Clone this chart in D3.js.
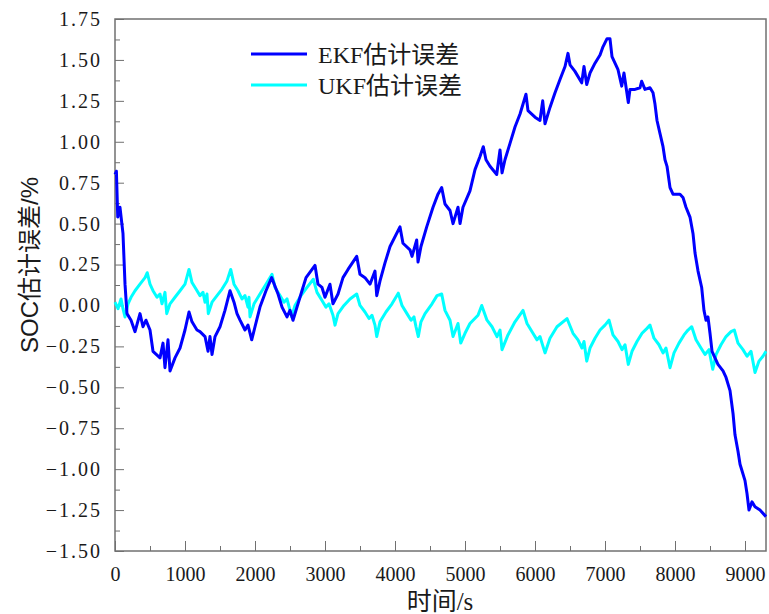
<!DOCTYPE html>
<html>
<head>
<meta charset="utf-8">
<script src="https://cdn.jsdelivr.net/npm/d3@7"></script>
<style>
  body { margin: 0; background: #fff; }
  svg { display: block; }
</style>
</head>
<body>
<svg id="chart"></svg>
<script>
// time (s) and SOC error (%)
var ekfT = [0, 20, 39, 71, 114, 143, 171, 229, 286, 357, 400, 443, 500, 543, 643, 686, 714, 757, 786, 857, 929, 1000, 1057, 1100, 1171, 1214, 1286, 1329, 1357, 1386, 1429, 1500, 1571, 1643, 1700, 1743, 1786, 1857, 1900, 1953, 2000, 2071, 2157, 2238, 2329, 2386, 2457, 2500, 2543, 2600, 2671, 2729, 2857, 2900, 2957, 3000, 3071, 3114, 3186, 3257, 3329, 3453, 3500, 3571, 3643, 3714, 3739, 3786, 3857, 3929, 4071, 4114, 4214, 4243, 4310, 4329, 4371, 4453, 4543, 4614, 4667, 4714, 4786, 4829, 4900, 4929, 4971, 5071, 5143, 5214, 5261, 5300, 5357, 5453, 5500, 5529, 5571, 5643, 5714, 5786, 5871, 5900, 6000, 6071, 6110, 6143, 6214, 6286, 6357, 6429, 6471, 6500, 6571, 6667, 6700, 6739, 6786, 6857, 6929, 6971, 7029, 7071, 7100, 7143, 7186, 7239, 7271, 7333, 7357, 7429, 7500, 7524, 7571, 7643, 7686, 7714, 7743, 7786, 7829, 7857, 7886, 7929, 7971, 8071, 8114, 8157, 8214, 8257, 8286, 8329, 8381, 8414, 8443, 8471, 8500, 8529, 8571, 8614, 8686, 8729, 8786, 8829, 8857, 8900, 8929, 9000, 9029, 9057, 9100, 9143, 9214, 9300];
var ekfV = [0.80, 0.82, 0.54, 0.60, 0.44, 0.13, -0.05, -0.09, -0.16, -0.05, -0.13, -0.09, -0.15, -0.28, -0.32, -0.23, -0.38, -0.21, -0.40, -0.32, -0.26, -0.15, -0.04, -0.10, -0.15, -0.16, -0.19, -0.28, -0.19, -0.30, -0.19, -0.13, -0.03, 0.09, 0.02, -0.05, -0.09, -0.15, -0.12, -0.21, -0.13, -0.01, 0.09, 0.17, 0.07, -0.01, -0.07, -0.03, -0.09, -0.01, 0.09, 0.17, 0.245, 0.13, 0.11, 0.05, 0.13, 0.01, 0.07, 0.17, 0.22, 0.30, 0.19, 0.17, 0.13, 0.21, 0.06, 0.15, 0.26, 0.36, 0.48, 0.38, 0.34, 0.30, 0.40, 0.265, 0.36, 0.48, 0.60, 0.68, 0.72, 0.62, 0.58, 0.50, 0.60, 0.50, 0.60, 0.70, 0.83, 0.91, 0.97, 0.89, 0.85, 0.80, 0.95, 0.81, 0.89, 0.99, 1.09, 1.17, 1.29, 1.19, 1.15, 1.13, 1.25, 1.11, 1.21, 1.30, 1.38, 1.46, 1.54, 1.47, 1.43, 1.36, 1.46, 1.35, 1.42, 1.48, 1.53, 1.58, 1.63, 1.63, 1.52, 1.48, 1.44, 1.34, 1.42, 1.24, 1.32, 1.32, 1.33, 1.37, 1.32, 1.33, 1.30, 1.23, 1.13, 1.05, 0.97, 0.89, 0.85, 0.72, 0.68, 0.68, 0.66, 0.60, 0.54, 0.44, 0.32, 0.21, 0.11, -0.03, -0.09, -0.07, -0.17, -0.28, -0.32, -0.36, -0.40, -0.44, -0.52, -0.66, -0.79, -0.89, -0.97, -1.07, -1.15, -1.25, -1.20, -1.23, -1.25, -1.29];

var ukfT = [0, 43, 86, 114, 143, 186, 229, 286, 357, 429, 461, 500, 543, 600, 643, 671, 714, 739, 786, 857, 929, 1000, 1057, 1100, 1157, 1214, 1257, 1286, 1314, 1333, 1386, 1457, 1529, 1600, 1653, 1700, 1757, 1814, 1857, 1900, 1914, 1929, 1986, 2071, 2157, 2243, 2286, 2357, 2414, 2457, 2500, 2524, 2571, 2657, 2743, 2833, 2886, 2957, 3014, 3057, 3114, 3143, 3186, 3271, 3357, 3453, 3500, 3571, 3629, 3671, 3714, 3739, 3786, 3871, 3957, 4047, 4100, 4171, 4229, 4271, 4300, 4333, 4371, 4429, 4529, 4600, 4667, 4714, 4786, 4829, 4900, 4939, 5000, 5071, 5186, 5239, 5314, 5386, 5457, 5500, 5529, 5614, 5714, 5829, 5886, 5971, 6029, 6071, 6143, 6214, 6314, 6457, 6543, 6614, 6671, 6700, 6739, 6786, 6857, 6929, 7000, 7057, 7114, 7186, 7243, 7286, 7333, 7386, 7457, 7529, 7600, 7643, 7700, 7771, 7829, 7871, 7929, 7986, 8057, 8129, 8186, 8239, 8300, 8371, 8429, 8486, 8539, 8586, 8657, 8729, 8800, 8847, 8900, 8971, 9029, 9086, 9143, 9200, 9257, 9300];
var ukfV = [0.02, -0.02, 0.04, -0.02, -0.07, 0.01, 0.05, 0.09, 0.13, 0.17, 0.20, 0.13, 0.09, 0.05, 0.07, 0.01, 0.08, -0.05, 0.01, 0.05, 0.09, 0.13, 0.22, 0.14, 0.10, 0.06, 0.08, 0.02, 0.07, -0.05, 0.02, 0.06, 0.10, 0.15, 0.22, 0.13, 0.09, 0.04, 0.06, -0.01, 0.05, -0.07, 0.01, 0.07, 0.13, 0.19, 0.11, 0.06, 0.02, 0.04, -0.03, -0.07, 0.00, 0.06, 0.11, 0.16, 0.08, 0.03, -0.01, 0.01, -0.06, -0.12, -0.05, 0.00, 0.04, 0.07, 0.00, -0.04, -0.08, -0.06, -0.12, -0.19, -0.10, -0.04, 0.01, 0.075, 0.00, -0.05, -0.09, -0.07, -0.13, -0.19, -0.10, -0.05, 0.01, 0.06, 0.07, -0.03, -0.09, -0.19, -0.11, -0.23, -0.17, -0.11, -0.06, 0.00, -0.09, -0.13, -0.19, -0.15, -0.27, -0.18, -0.10, -0.03, -0.11, -0.17, -0.21, -0.19, -0.29, -0.20, -0.13, -0.08, -0.17, -0.21, -0.26, -0.22, -0.34, -0.26, -0.20, -0.15, -0.12, -0.09, -0.18, -0.22, -0.27, -0.24, -0.36, -0.28, -0.22, -0.17, -0.14, -0.12, -0.20, -0.24, -0.29, -0.26, -0.38, -0.29, -0.23, -0.18, -0.15, -0.13, -0.21, -0.26, -0.30, -0.27, -0.39, -0.30, -0.24, -0.19, -0.16, -0.15, -0.23, -0.27, -0.31, -0.28, -0.41, -0.34, -0.31, -0.28];

var xTicks = [0, 1000, 2000, 3000, 4000, 5000, 6000, 7000, 8000, 9000];
var yTicks = [-1.5, -1.25, -1, -0.75, -0.5, -0.25, 0, 0.25, 0.5, 0.75, 1, 1.25, 1.5, 1.75];
var seriesNames = ["EKF估计误差", "UKF估计误差"];
var seriesColors = ["#0000ff", "#00ffff"];

var width = 769;
var height = 614;
var margin = {"top": 19, "right": 3, "bottom": 63, "left": 115};

var svg = d3.select("svg#chart")
    .attr("width", width)
    .attr("height", height);

var x = d3.scaleLinear().domain([0, 9300]).range([margin.left, width - margin.right]);
var y = d3.scaleLinear().domain([-1.5, 1.75]).range([height - margin.bottom, margin.top]);

var axisColor = "#707070";
var labelFont = "'Liberation Serif', 'Noto Sans CJK SC', serif";

// minor ticks first
svg.append("g")
    .attr("transform", "translate(0," + y(-1.5) + ")")
    .call(d3.axisBottom(x).tickValues(d3.range(500, 9300, 1000)).tickSize(-5).tickFormat(""))
    .call(g => g.select(".domain").remove())
    .call(g => g.selectAll("line").attr("stroke", axisColor));

svg.append("g")
    .attr("transform", "translate(" + x(0) + ",0)")
    .call(d3.axisLeft(y).tickValues(d3.range(-1.375, 1.75, 0.25)).tickSize(-5).tickFormat(""))
    .call(g => g.select(".domain").remove())
    .call(g => g.selectAll("line").attr("stroke", axisColor));

var xAxis = svg.append("g")
    .attr("transform", "translate(0," + y(-1.5) + ")")
    .call(d3.axisBottom(x).tickValues(xTicks).tickSize(-10).tickPadding(16).tickFormat(d3.format("d")));

var yAxis = svg.append("g")
    .attr("transform", "translate(" + x(0) + ",0)")
    .call(d3.axisLeft(y).tickValues(yTicks).tickSize(-9).tickPadding(13).tickFormat(d3.format(".2f")));

[xAxis, yAxis].forEach(function(g) {
    g.select(".domain").remove();
    g.selectAll("line").attr("stroke", axisColor);
    g.selectAll("text")
        .attr("fill", "#1a1a1a")
        .style("font-family", labelFont)
        .style("font-size", "20px");
});
yAxis.selectAll("text").style("letter-spacing", "2px");

// frame
svg.append("rect")
    .attr("x", x(0))
    .attr("y", y(1.75))
    .attr("width", x(9300) - x(0))
    .attr("height", y(-1.5) - y(1.75))
    .attr("fill", "none")
    .attr("stroke", axisColor)
    .attr("stroke-width", 1.5);

var line = d3.line()
    .x(function(d) { return x(d[0]); })
    .y(function(d) { return y(d[1]); });

var ukf = d3.zip(ukfT, ukfV);
var ekf = d3.zip(ekfT, ekfV);

svg.append("path")
    .datum(ukf)
    .attr("fill", "none")
    .attr("stroke", seriesColors[1])
    .attr("stroke-width", 3)
    .attr("stroke-linejoin", "round")
    .attr("d", line);

svg.append("path")
    .datum(ekf)
    .attr("fill", "none")
    .attr("stroke", seriesColors[0])
    .attr("stroke-width", 3)
    .attr("stroke-linejoin", "round")
    .attr("d", line);

// legend
var legend = svg.append("g");
seriesNames.forEach(function(name, i) {
    var ly = 54 + i * 31;
    legend.append("line")
        .attr("x1", 251).attr("x2", 307)
        .attr("y1", ly).attr("y2", ly)
        .attr("stroke", seriesColors[i])
        .attr("stroke-width", 3);
    legend.append("text")
        .attr("x", 318)
        .attr("y", ly)
        .attr("dy", "0.36em")
        .attr("fill", "#1a1a1a")
        .style("font-family", labelFont)
        .style("font-size", "24px")
        .text(name);
});

// axis titles
svg.append("text")
    .attr("x", 440)
    .attr("y", 610)
    .attr("text-anchor", "middle")
    .attr("fill", "#1a1a1a")
    .style("font-family", labelFont)
    .style("font-size", "25px")
    .text("时间/s");

svg.append("text")
    .attr("transform", "translate(38,265) rotate(-90)")
    .attr("text-anchor", "middle")
    .attr("fill", "#1a1a1a")
    .style("font-family", "'Liberation Sans', 'Noto Sans CJK SC', sans-serif")
    .style("font-size", "24px")
    .text("SOC估计误差/%");
</script>
</body>
</html>
